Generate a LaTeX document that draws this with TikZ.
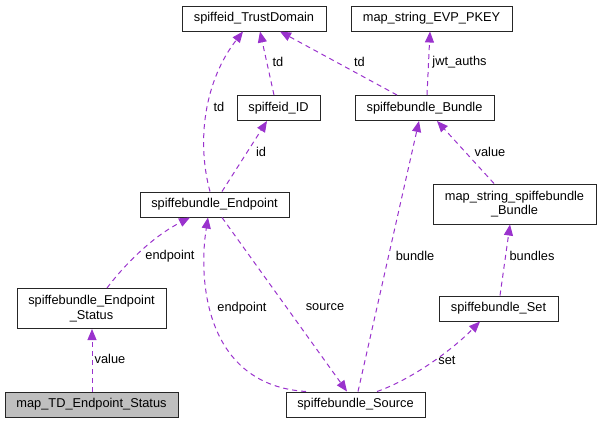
\documentclass[tikz,border=0pt]{standalone}
\usepackage{fontspec}
\setsansfont{Liberation Sans}
\usetikzlibrary{arrows.meta}
\definecolor{member}{HTML}{9a32cd}
\definecolor{focus}{HTML}{bfbfbf}

\begin{document}
\begin{tikzpicture}[
                x=1pt, y=-1pt,
                >={Triangle[length=11pt,width=9pt]},
                font=\sffamily\fontsize{12.8}{14.5}\selectfont,
                cls/.style={draw=black!85, line width=1pt, inner sep=0pt,
                minimum height=25pt, align=center},
                tallcls/.style={cls, minimum height=40pt},
                focuscls/.style={cls, fill=focus},
                usage/.style={->, member, line width=1pt, dash pattern=on 5pt off 4pt},
                varname/.style={inner sep=0pt},
                ]

                \useasboundingbox (0,0) rectangle (601,424);

                % ── Classes ──
                \node[cls, minimum width=144pt] (trustdomain) at (254,18.5) {spiffeid\_TrustDomain};
                \node[cls, minimum width=161pt] (evpkey) at (431.5,18.5) {map\_string\_EVP\_PKEY};
                \node[cls, minimum width=83pt] (spid) at (278.5,108) {spiffeid\_ID};
                \node[cls, minimum width=139pt] (bundle) at (424.5,108) {spiffebundle\_Bundle};
                \node[tallcls, minimum width=163pt] (bundlemap) at (514.5,204) {map\_string\_spiffebundle\\\_Bundle};
                \node[cls, minimum width=149pt] (endpoint) at (214.5,204.5) {spiffebundle\_Endpoint};
                \node[tallcls, minimum width=149pt] (epstatus) at (91.5,308.5) {spiffebundle\_Endpoint\\\_Status};
                \node[cls, minimum width=119pt] (bset) at (498.5,308.5) {spiffebundle\_Set};
                \node[focuscls, minimum width=173pt] (tdmap) at (91.5,404.5) {map\_TD\_Endpoint\_Status};
                \node[cls, minimum width=139pt] (source) at (355.5,404.5) {spiffebundle\_Source};

                % ── Member usage (dashed, arrow points at the used class) ──
                \draw[usage] ([xshift=-4.5pt]endpoint.north) .. controls (196,140) and (205,80) .. ([xshift=-11pt]trustdomain.south);
                \draw[usage] ([xshift=-4.5pt]spid.north) -- ([xshift=6pt]trustdomain.south);
                \draw[usage] ([xshift=7.5pt]endpoint.north) -- ([xshift=-11.5pt]spid.south);
                \draw[usage] ([xshift=-27.5pt]bundle.north) -- ([xshift=26pt]trustdomain.south);
                \draw[usage] ([xshift=2.5pt]bundle.north) -- ([xshift=-1.5pt]evpkey.south);
                \draw[usage] ([xshift=-20.5pt]bundlemap.north) -- ([xshift=12.5pt]bundle.south);
                \draw[usage] ([xshift=1.5pt]bset.north) -- ([xshift=-4.5pt]bundlemap.south);
                \draw[usage] ([xshift=21.5pt]source.north) .. controls (410,380) and (450,352) .. ([xshift=-18.5pt]bset.south);
                \draw[usage] ([xshift=2.5pt]source.north) -- ([xshift=-5.5pt]bundle.south);
                \draw[usage] ([xshift=7.5pt]endpoint.south) -- ([xshift=-8.5pt]source.north);
                \draw[usage] ([xshift=-49.5pt]source.north) .. controls (205,385) and (198,280) .. ([xshift=-6.5pt]endpoint.south);
                \draw[usage] ([xshift=15.5pt]epstatus.north) .. controls (122,268) and (150,238) .. ([xshift=-24.5pt]endpoint.south);
                \draw[usage] ([xshift=0.5pt]tdmap.north) -- ([xshift=0.5pt]epstatus.south);

                % ── Member names ──
                \node[varname] (l-td-ep) at (219,107) {td};
                \node[varname] (l-td-id) at (278,62) {td};
                \node[varname] (l-id) at (261,152) {id};
                \node[varname] (l-td-bundle) at (359.5,62) {td};
                \node[varname] (l-jwt) at (459.5,62) {jwt\_auths};
                \node[varname] (l-value-map) at (490,152) {value};
                \node[varname] (l-bundles) at (532,256) {bundles};
                \node[varname] (l-bundle) at (415,256) {bundle};
                \node[varname] (l-source) at (325,307) {source};
                \node[varname] (l-ep-status) at (170,256) {endpoint};
                \node[varname] (l-ep-source) at (242,308) {endpoint};
                \node[varname] (l-set) at (447,360) {set};
                \node[varname] (l-value-td) at (110,359) {value};

\end{tikzpicture}
\end{document}
